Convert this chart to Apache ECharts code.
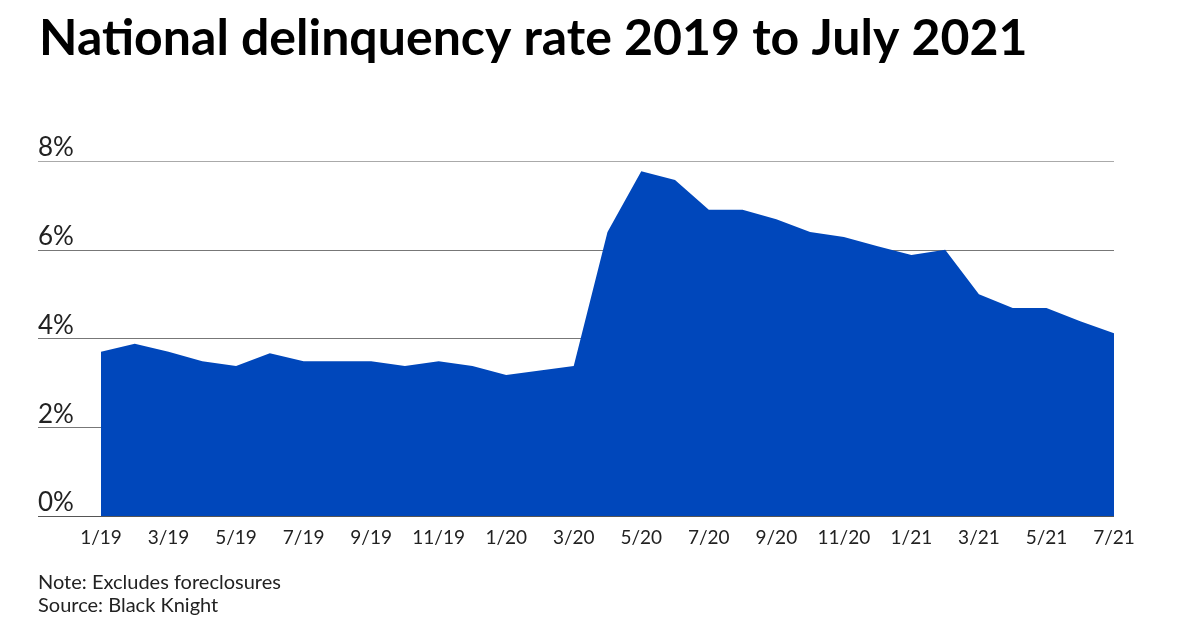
<!DOCTYPE html>
<html>
<head>
<meta charset="utf-8">
<script src="https://cdn.jsdelivr.net/npm/echarts@6/dist/echarts.min.js"></script>
<style>
  html, body { margin: 0; padding: 0; background: #fff; }
  #chart { width: 1200px; height: 630px; }
</style>
</head>
<body>
<div id="chart"></div>
<script>
// monthly points 1/19 .. 7/21
const months = [
  '1/19', '2/19', '3/19', '4/19', '5/19', '6/19', '7/19', '8/19', '9/19', '10/19', '11/19', '12/19',
  '1/20', '2/20', '3/20', '4/20', '5/20', '6/20', '7/20', '8/20', '9/20', '10/20', '11/20', '12/20',
  '1/21', '2/21', '3/21', '4/21', '5/21', '6/21', '7/21'
];
const rates = [
  3.70, 3.88, 3.70, 3.49, 3.38, 3.67, 3.49, 3.49, 3.49, 3.38, 3.49, 3.38,
  3.18, 3.28, 3.38, 6.40, 7.77, 7.57, 6.90, 6.90, 6.69, 6.40, 6.29, 6.08,
  5.88, 6.00, 5.00, 4.69, 4.69, 4.39, 4.12
];
const yTicks = [0, 2, 4, 6, 8];

const FONT = 'Lato, "Open Sans", sans-serif';
const chart = echarts.init(document.getElementById('chart'));

chart.setOption({
  animation: false,
  title: {
    text: 'National delinquency rate 2019 to July 2021',
    left: 34,
    top: 9,
    textStyle: { fontFamily: FONT, fontSize: 50, fontWeight: 'bold', color: '#000' }
  },
  grid: [
    // grid for the gridlines and y labels (wider than the plot)
    { left: 38, right: 86, top: 161, bottom: 114 },
    // grid for the area
    { left: 101, right: 86, top: 161, bottom: 114 }
  ],
  xAxis: [
    { gridIndex: 0, type: 'value', show: false, min: 0, max: 1 },
    {
      gridIndex: 1,
      type: 'category',
      data: months,
      boundaryGap: false,
      axisLine: { show: false },
      axisTick: { show: false },
      axisLabel: {
        interval: 1,
        margin: 12,
        fontFamily: FONT,
        fontSize: 19,
        color: '#222'
      }
    }
  ],
  yAxis: [
    {
      gridIndex: 0,
      type: 'value',
      min: yTicks[0],
      max: yTicks[yTicks.length - 1],
      interval: 2,
      axisLine: { show: false },
      axisTick: { show: false },
      axisLabel: {
        inside: true,
        margin: 0,
        verticalAlign: 'bottom',
        fontFamily: FONT,
        fontSize: 26,
        color: '#222',
        formatter: v => v + '%'
      },
      splitLine: {
        lineStyle: {
          color: ['#555', '#777', '#777', '#777', '#aaa'],
          width: 1
        }
      }
    },
    {
      gridIndex: 1,
      type: 'value',
      min: 0,
      max: 8,
      show: false
    }
  ],
  series: [
    {
      type: 'line',
      xAxisIndex: 1,
      yAxisIndex: 1,
      data: rates,
      symbol: 'none',
      lineStyle: { width: 0 },
      areaStyle: { color: '#0047bb', opacity: 1 },
      itemStyle: { color: '#0047bb' },
      z: 3
    }
  ],
  graphic: [
    {
      type: 'text',
      left: 38,
      top: 573,
      style: { text: 'Note: Excludes foreclosures', font: '20px ' + FONT, fill: '#222' }
    },
    {
      type: 'text',
      left: 38,
      top: 596,
      style: { text: 'Source: Black Knight', font: '20px ' + FONT, fill: '#222' }
    }
  ]
});
</script>
</body>
</html>
